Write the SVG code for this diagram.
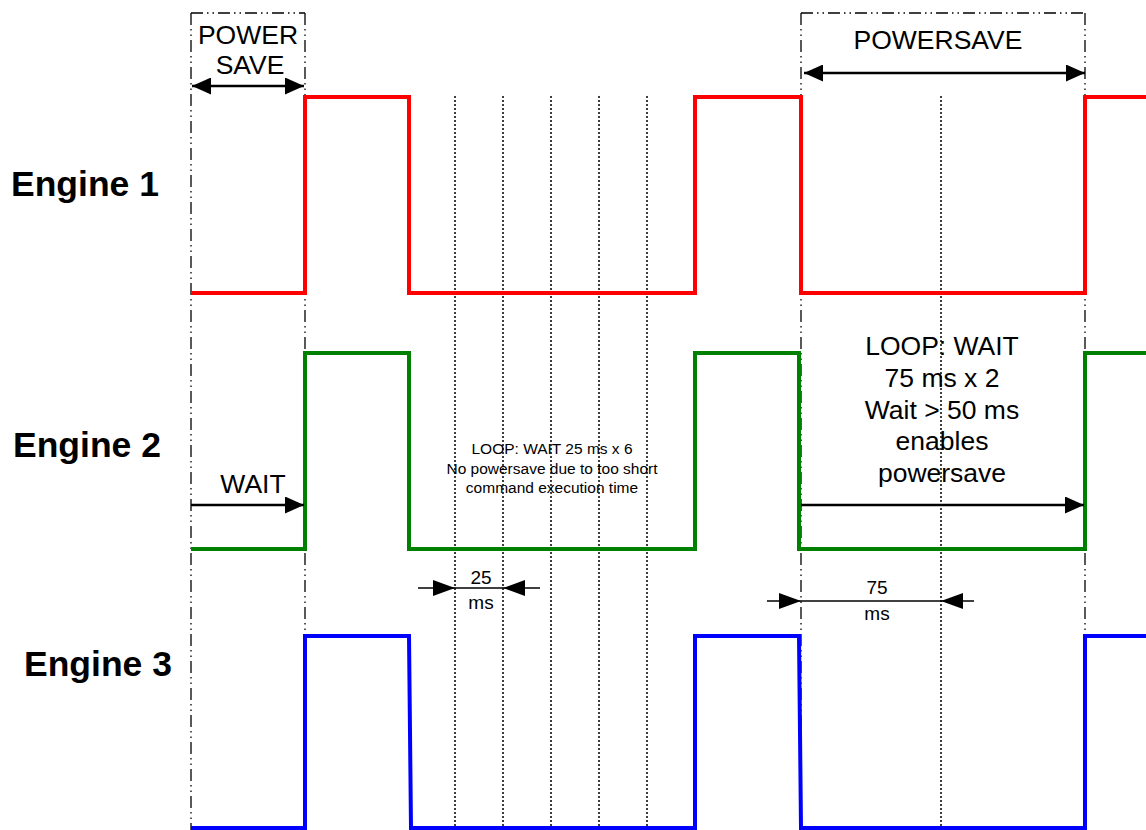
<svg xmlns="http://www.w3.org/2000/svg" width="1146" height="830" viewBox="0 0 1146 830">
<style>
text{font-family:"Liberation Sans",Arial,sans-serif;fill:#000}
.lbl{font-size:35.5px;font-weight:bold}
.big{font-size:26.5px;text-anchor:middle}
.sm{font-size:15.5px;text-anchor:middle}
.dim{font-size:19px;text-anchor:middle}
.dd{stroke:#000;stroke-width:1.3;fill:none;stroke-dasharray:12 4 1.5 4 1.5 4}
.dot{stroke:#000;stroke-width:1.5;fill:none;stroke-dasharray:2 2}
.sig{fill:none;stroke-width:4;stroke-linejoin:miter}
.arr{stroke:#000;stroke-width:2.5;fill:none}
.thin{stroke:#000;stroke-width:1.6;fill:none}
</style>
<defs>
<marker id="ah" viewBox="0 0 19 17" refX="19" refY="8.5" markerWidth="19" markerHeight="17" orient="auto-start-reverse" markerUnits="userSpaceOnUse">
<path d="M0,0 L19,8.5 L0,17 z" fill="#000"/>
</marker>
<marker id="ah2" viewBox="0 0 22 16" refX="22" refY="8" markerWidth="22" markerHeight="16" orient="auto-start-reverse" markerUnits="userSpaceOnUse">
<path d="M0,0 L22,8 L0,16 z" fill="#000"/>
</marker>
</defs>
<rect width="1146" height="830" fill="#fff"/>
<g id="grid">
<path class="dd" d="M191,13 H305 M191,13 V830 M305,13 V830"/>
<path class="dd" d="M801,13 H1085 M801,13 V830 M1085,13 V830"/>
<path class="dot" d="M455,96 V830 M503,96 V830 M551,96 V830 M599,96 V830 M647,96 V830 M941,96 V830"/>
</g>
<g id="engine1">
<text class="lbl" x="11" y="196">Engine 1</text>
<path class="sig" stroke="#ff0000" d="M191,293 H305 V97 H409 V293 H695 V97 H801 V293 H1085 V97 H1146"/>
</g>
<g id="engine2">
<text class="lbl" x="13" y="457">Engine 2</text>
<path class="sig" stroke="#008000" d="M191,549 H305 V353 H409 V549 H695 V353 H799 V549 H1085 V353 H1146"/>
</g>
<g id="engine3">
<text class="lbl" x="24" y="676">Engine 3</text>
<path class="sig" stroke="#0000ff" d="M191,828 H305 V636 H409 L411,828 H695 V636 H799 L801,828 H1085 V636 H1146"/>
</g>
<g id="labels">
<text class="big" x="248" y="44">POWER</text>
<text class="big" x="250" y="74">SAVE</text>
<text class="big" x="938" y="49">POWERSAVE</text>
<text class="big" x="253" y="493">WAIT</text>
<text class="big" x="942" y="355">LOOP: WAIT</text>
<text class="big" x="942" y="387">75 ms x 2</text>
<text class="big" x="942" y="419">Wait &gt; 50 ms</text>
<text class="big" x="942" y="450">enables</text>
<text class="big" x="942" y="482">powersave</text>
<text class="sm" x="552" y="454">LOOP: WAIT 25 ms x 6</text>
<text class="sm" x="552" y="474">No powersave due to too short</text>
<text class="sm" x="552" y="493">command execution time</text>
<text class="dim" x="481" y="584">25</text>
<text class="dim" x="481" y="609">ms</text>
<text class="dim" x="877" y="594">75</text>
<text class="dim" x="877" y="620">ms</text>
</g>
<g id="connectors">
<line class="arr" x1="192" y1="86" x2="304" y2="86" marker-start="url(#ah)" marker-end="url(#ah)"/>
<line class="arr" x1="804" y1="73" x2="1085" y2="73" marker-start="url(#ah)" marker-end="url(#ah)"/>
<line class="arr" x1="191" y1="505" x2="304" y2="505" marker-end="url(#ah)"/>
<line class="arr" x1="801" y1="505" x2="1084" y2="505" marker-end="url(#ah)"/>
<line class="thin" x1="418" y1="588" x2="455" y2="588" marker-end="url(#ah2)"/>
<line class="thin" x1="455" y1="588" x2="503" y2="588"/>
<line class="thin" x1="540" y1="588" x2="503" y2="588" marker-end="url(#ah2)"/>
<line class="thin" x1="767" y1="601" x2="801" y2="601" marker-end="url(#ah2)"/>
<line class="thin" x1="801" y1="601" x2="941" y2="601"/>
<line class="thin" x1="974" y1="601" x2="941" y2="601" marker-end="url(#ah2)"/>
</g>
</svg>
